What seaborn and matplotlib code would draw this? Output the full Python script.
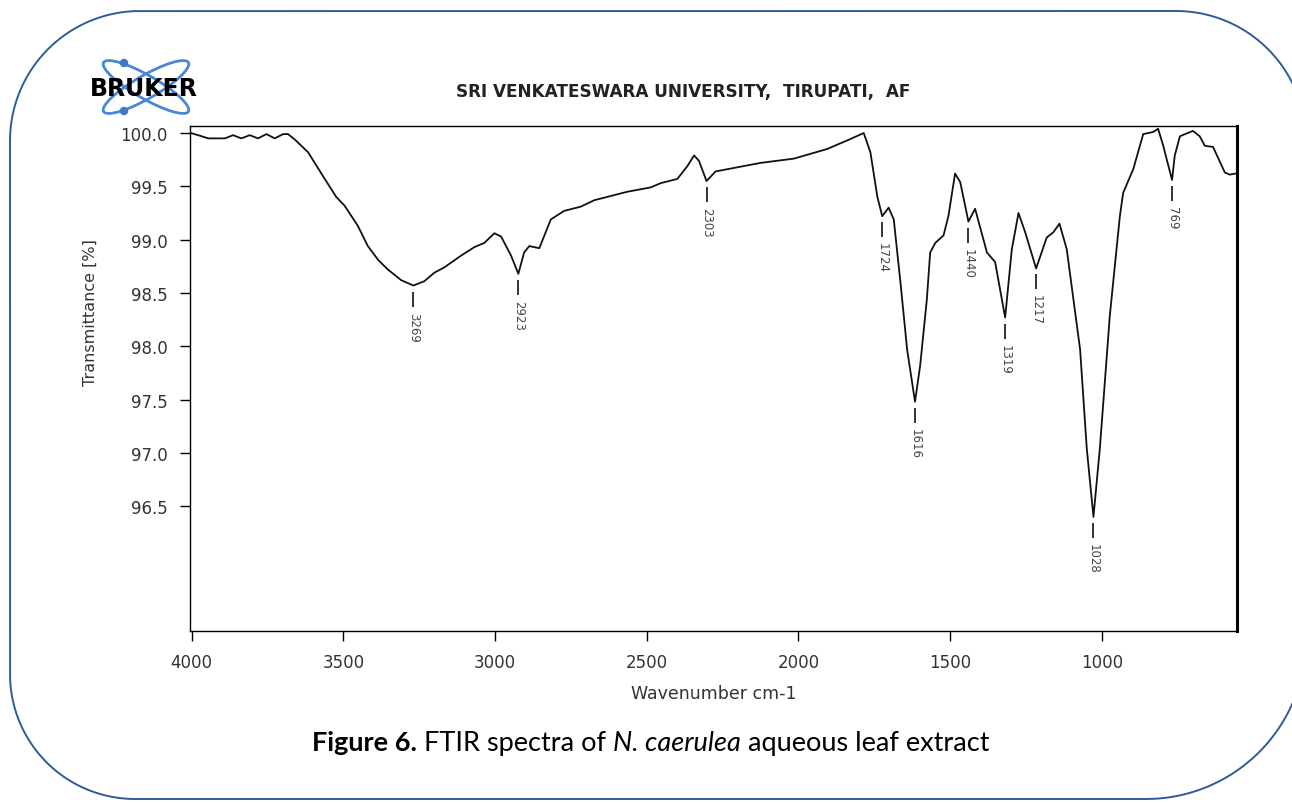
import numpy as np
import pandas as pd
import matplotlib
matplotlib.use('Agg')
import matplotlib.pyplot as plt
import seaborn as sns
from matplotlib.patches import Ellipse, Circle
from matplotlib.lines import Line2D
from matplotlib.transforms import IdentityTransform

# FTIR spectrum
wavenumber = [4003, 3978, 3945, 3890, 3863, 3836, 3808, 3781, 3753, 3726, 3698, 3682,
              3660, 3616, 3561, 3523, 3496, 3452, 3419, 3385, 3353, 3309, 3269, 3233, 3200,
              3167, 3112, 3068, 3035, 3002, 2980, 2947, 2923, 2904, 2887, 2854, 2816,
              2772, 2717, 2673, 2563, 2487, 2454, 2399, 2366, 2344, 2328, 2303, 2273,
              2125, 2015, 1906, 1840, 1785, 1763, 1740, 1724, 1703, 1686, 1664, 1642,
              1616, 1599, 1577, 1566, 1549, 1522, 1506, 1484, 1467, 1440, 1418, 1379,
              1352, 1319, 1297, 1275, 1253, 1217, 1182, 1160, 1140, 1116, 1072, 1050,
              1028, 1007, 974, 941, 930, 897, 864, 831, 815, 798, 769, 760,
              743, 700, 678, 661, 634, 595, 579, 560]
transmittance = [100.00, 99.98, 99.95, 99.95, 99.98, 99.95, 99.98, 99.95, 99.99, 99.95, 99.99, 99.99,
                 99.94, 99.82, 99.57, 99.40, 99.32, 99.13, 98.94, 98.81, 98.72, 98.62, 98.57, 98.61, 98.69,
                 98.74, 98.85, 98.93, 98.97, 99.06, 99.03, 98.85, 98.68, 98.88, 98.94, 98.92, 99.19,
                 99.27, 99.31, 99.37, 99.45, 99.49, 99.53, 99.57, 99.69, 99.79, 99.74, 99.55, 99.64,
                 99.72, 99.76, 99.85, 99.93, 100.00, 99.82, 99.40, 99.22, 99.30, 99.19, 98.60, 97.97,
                 97.48, 97.82, 98.44, 98.88, 98.97, 99.04, 99.22, 99.62, 99.54, 99.17, 99.29, 98.88,
                 98.79, 98.27, 98.91, 99.25, 99.07, 98.73, 99.02, 99.07, 99.15, 98.91, 97.97, 97.04,
                 96.40, 97.04, 98.29, 99.22, 99.44, 99.66, 99.99, 100.01, 100.04, 99.88, 99.56, 99.79,
                 99.97, 100.02, 99.97, 99.88, 99.87, 99.63, 99.61, 99.62]

peaks = [3269, 2923, 2303, 1724, 1616, 1440, 1319, 1217, 1028, 769]

x_ticks = [4000, 3500, 3000, 2500, 2000, 1500, 1000]
y_ticks = [96.5, 97.0, 97.5, 98.0, 98.5, 99.0, 99.5, 100.0]

header = 'SRI VENKATESWARA UNIVERSITY,  TIRUPATI,  AF'
caption_parts = [('Figure 6.', 'bold', 'normal'),
                 (' FTIR spectra of ', 'normal', 'normal'),
                 ('N. caerulea', 'normal', 'italic'),
                 (' aqueous leaf extract', 'normal', 'normal')]

sns.set_style('white')
plt.rcParams['font.family'] = ['DejaVu Sans']

W, H = 1292, 804
fig = plt.figure(figsize=(W / 100, H / 100), dpi=100)
ax_box = [190, 127, 1237, 632]  # left, top, right, bottom in pixels
ax = fig.add_axes([ax_box[0] / W, 1 - ax_box[3] / H,
                   (ax_box[2] - ax_box[0]) / W, (ax_box[3] - ax_box[1]) / H])

df = pd.DataFrame({'Wavenumber': wavenumber, 'Transmittance': transmittance})
sns.lineplot(data=df, x='Wavenumber', y='Transmittance', ax=ax, color='#111111',
             lw=1.3, sort=False, estimator=None)

ymin, ymax = 95.33, 100.066
ax.set_xlim(4005, 555)
ax.set_ylim(ymin, ymax)
ax.set_xticks(x_ticks)
ax.set_xticklabels([str(v) for v in x_ticks])
ax.set_yticks(y_ticks)
ax.set_yticklabels([f'{v:.1f}' for v in y_ticks])
ax.tick_params(bottom=True, left=True, direction='out', length=7, width=1,
               color='black', labelcolor='#333333', labelsize=12, pad=9)

for side in ['left', 'top', 'bottom', 'right']:
    ax.spines[side].set_visible(True)
    ax.spines[side].set_color('black')
    ax.spines[side].set_linewidth(1.0)
ax.spines['right'].set_linewidth(2.2)

ax.set_xlabel('Wavenumber cm-1', fontsize=12.5, color='#333333')
ax.xaxis.set_label_coords(0.5, -0.104)
ax.set_ylabel('Transmittance [%]', fontsize=11.5, color='#333333')
ax.yaxis.set_label_coords(-0.0955, 0.632)
ax.yaxis.label.set_va('center')

# peak markers: short tick below each minimum, then the rotated wavenumber
dy = (ymax - ymin) / (ax_box[3] - ax_box[1])
wn_sorted = wavenumber[::-1]
tr_sorted = transmittance[::-1]
for p in peaks:
    t = np.interp(p, wn_sorted, tr_sorted)
    ax.vlines(p, t - 21 * dy, t - 6 * dy, color='#333333', lw=1.4)
    ax.text(p, t - 26 * dy, str(p), rotation=270, ha='center', va='top',
            fontsize=8.5, color='#444444')

# header line
fig.text(683 / W, 1 - 92 / H, header, ha='center', va='center',
         fontsize=12.2, fontweight='bold', color='#222222')

# Bruker logo
ident = IdentityTransform()
logo_c = (146, H - 88)
for ang in (30, -30):
    fig.add_artist(Ellipse(logo_c, 98, 23, angle=ang, fill=False,
                           edgecolor='#4a86d6', lw=2.0, transform=ident))
for cx, cy in [(124, H - 64), (124, H - 112)]:
    fig.add_artist(Circle((cx, cy), 3.5, color='#3f78c8', transform=ident))
fig.text(144 / W, 1 - 89 / H, 'BRUKER', ha='center', va='center',
         fontsize=17, fontweight='heavy', color='black')

# rounded frame around the figure, built from circular corners (pixel coords)
# right edge lies just outside the picture, as in the scan
fx0, fx1, fy0, fy1 = 10, 1306, 4, 792
corners = [(fx1, fy1, 130, 0, 90), (fx0, fy1, 130, 90, 180),
           (fx0, fy0, 125, 180, 270), (fx1, fy0, 160, 270, 360)]
fxs, fys = [], []
for cx, cy, r, a0, a1 in corners:
    ccx = cx - r if cx == fx1 else cx + r
    ccy = cy - r if cy == fy1 else cy + r
    ang = np.radians(np.linspace(a0, a1, 40))
    fxs.extend(ccx + r * np.cos(ang))
    fys.extend(ccy + r * np.sin(ang))
fxs.append(fxs[0])
fys.append(fys[0])
fig.add_artist(Line2D(fxs, fys, color='#2f5b97', lw=1.4, transform=ident))

# caption with mixed styles
renderer = fig.canvas.get_renderer()
x_px = 312
for txt, weight, style in caption_parts:
    t = fig.text(x_px / W, 1 - 751 / H, txt, ha='left', va='baseline',
                 fontsize=19.5, fontweight=weight, fontstyle=style,
                 family=['Lato', 'DejaVu Sans'], color='black')
    bb = t.get_window_extent(renderer)
    x_px = bb.x1

fig.savefig('out.png', dpi=100)
